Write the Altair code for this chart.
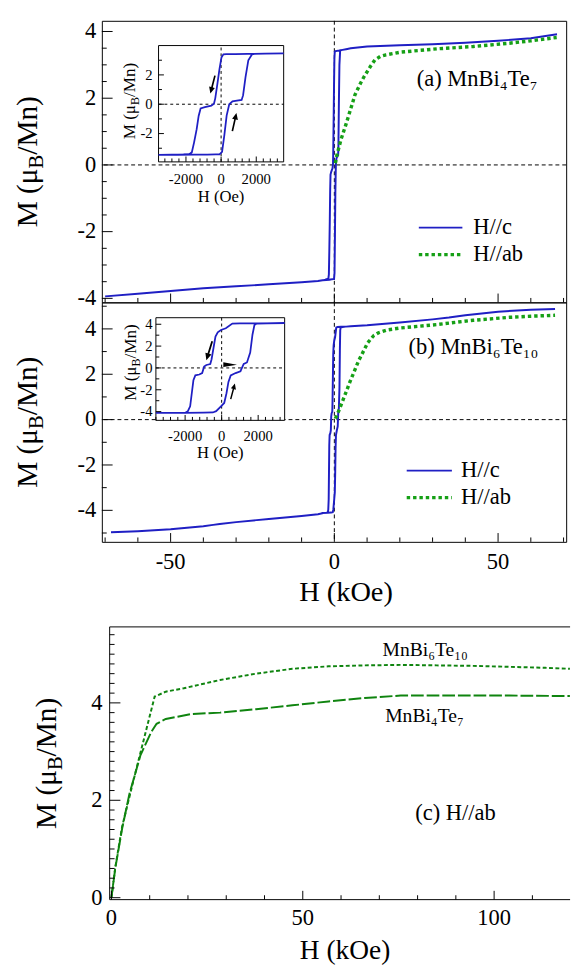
import math
import altair as alt
import pandas as pd

FONT = "Liberation Serif"
BLUE = "#1f1fc4"
GREEN = "#16a016"
GREEN_C = "#0f840f"

# ---------------- data ----------------
# Panel (a) MnBi4Te7, H//c, outside the hysteresis window (kOe, muB/Mn)
a_hi_H = [3.6, 5, 10, 20, 30, 40, 50, 60, 68]
a_hi_M = [3.47, 3.5, 3.55, 3.59, 3.62, 3.66, 3.72, 3.8, 3.92]
a_lo_H = [-70, -60, -50, -40, -30, -20, -10, -5, -3.6]
a_lo_M = [-3.94, -3.86, -3.78, -3.7, -3.64, -3.58, -3.52, -3.48, -3.46]
# Panel (a) H//ab
a_ab_H = [0.3, 0.8, 2, 3.5, 5, 6.3, 8, 9.1, 11, 12.4, 14, 15.8, 20.2, 31.3, 42.4, 53.5, 60, 67.9]
a_ab_M = [0.05, 0.3, 0.75, 1.2, 1.68, 2.1, 2.45, 2.65, 2.95, 3.15, 3.25, 3.3, 3.38, 3.48, 3.55, 3.65, 3.72, 3.82]
# Inset (a) loop, H in Oe
a_dn_H = [3560, 2500, 1500, 800, 300, 130, 19, -93, -222, -333, -407, -556, -926, -1167, -1278, -1390, -1537, -1667, -1815, -2130, -2800, -3560]
a_dn_M = [3.47, 3.45, 3.43, 3.42, 3.41, 3.4, 3.18, 2.4, 1.3, 0.4, 0.03, -0.1, -0.2, -0.29, -0.8, -1.7, -2.6, -3.28, -3.4, -3.42, -3.44, -3.46]
a_up_H = [-3560, -2500, -1500, -800, -300, -93, 55, 185, 315, 463, 648, 900, 1167, 1250, 1389, 1550, 1760, 1900, 2500, 3560]
a_up_M = [-3.46, -3.45, -3.44, -3.43, -3.42, -3.42, -3.24, -2.1, -0.77, 0.0, 0.2, 0.25, 0.29, 0.6, 1.85, 3.0, 3.4, 3.44, 3.45, 3.47]

# Panel (b) MnBi6Te10
b_hi_H = [3.6, 5, 10, 20, 30, 35, 40, 50, 60, 67.4]
b_hi_M = [4.1, 4.12, 4.16, 4.28, 4.42, 4.5, 4.6, 4.76, 4.84, 4.88]
b_lo_H = [-68.2, -60, -50, -40, -37, -35, -30, -20, -10, -5, -3.6]
b_lo_M = [-4.97, -4.92, -4.83, -4.7, -4.64, -4.6, -4.52, -4.38, -4.25, -4.17, -4.13]
b_ab_H = [0.3, 0.8, 2.4, 4.7, 7.4, 10.2, 12, 13.5, 16, 20.2, 31.3, 42.4, 53.5, 60, 67.4]
b_ab_M = [0.05, 0.19, 0.77, 1.64, 2.59, 3.39, 3.7, 3.83, 3.95, 4.04, 4.19, 4.38, 4.51, 4.56, 4.6]
b_dn_H = [3450, 2000, 1000, 586, 229, -37, -213, -338, -444, -551, -622, -835, -960, -1066, -1226, -1440, -1546, -1635, -1724, -1849, -1991, -2500, -3600]
b_dn_M = [4.1, 4.09, 4.08, 4.06, 3.63, 3.48, 3.27, 2.88, 1.85, 0.8, 0.36, 0.27, 0.12, -0.47, -0.6, -0.68, -1.13, -2.32, -3.51, -3.96, -4.1, -4.11, -4.12]
b_up_H = [-3600, -2000, -1000, -480, -302, -37, 141, 265, 372, 497, 764, 1031, 1209, 1386, 1564, 1688, 1795, 1920, 2500, 3450]
b_up_M = [-4.12, -4.11, -4.1, -4.08, -3.96, -3.51, -3.21, -2.32, -1.28, -0.68, -0.47, -0.3, 0.36, 0.5, 1.4, 3.04, 3.93, 4.06, 4.08, 4.1]

# Panel (c) H//ab up to 120 kOe
c_H6 = [0, 1, 2.8, 5.7, 8.5, 11.3, 14.2, 18.9, 28.4, 37.8, 47.3, 56.7, 66.2, 75.6, 85, 94.5, 104, 113.4, 119.8]
c_M6 = [0, 0.62, 1.46, 2.39, 3.26, 4.13, 4.23, 4.3, 4.47, 4.6, 4.7, 4.75, 4.77, 4.78, 4.77, 4.76, 4.74, 4.72, 4.7]
c_H4 = [0, 1, 2.8, 4.7, 7.6, 10.4, 11.8, 14.2, 20.8, 28.4, 37.8, 47.3, 56.7, 66.2, 75.6, 85, 94.5, 104, 119.8]
c_M4 = [0, 0.6, 1.42, 2.13, 2.93, 3.4, 3.57, 3.67, 3.77, 3.8, 3.87, 3.95, 4.03, 4.1, 4.15, 4.15, 4.15, 4.15, 4.14]

# tick values (major = labelled)
main_x_major = [-50, 0, 50]
main_x_minor = [-70, -60, -40, -30, -20, -10, 10, 20, 30, 40, 60, 70]
a_y_major = [-4, -2, 0, 2, 4]
a_y_minor = [-3.5, -3, -2.5, -1.5, -1, -0.5, 0.5, 1, 1.5, 2.5, 3, 3.5]
b_y_major = [-4, -2, 0, 2, 4]
b_y_minor = [-5, -3, -1, 1, 3, 5]
c_x_major = [0, 50, 100]
c_x_minor = [10, 20, 30, 40, 60, 70, 80, 90, 110]
c_y_major = [0, 2, 4]
c_y_minor = [0.2, 0.4, 0.6, 0.8, 1, 1.2, 1.4, 1.6, 1.8, 2.2, 2.4, 2.6, 2.8, 3, 3.2, 3.4,
             3.6, 3.8, 4.2, 4.4, 4.6, 4.8, 5, 5.2, 5.4]
ins_x_major = [-2000, 0, 2000]
ins_x_minor = [-3600, -3200, -2800, -2400, -1600, -1200, -800, -400, 400, 800, 1200, 1600,
               2400, 2800, 3200]
insa_y_major = [-2, 0, 2]
insa_y_minor = [-3, -1, 1, 3]
insb_y_major = [-4, -2, 0, 2, 4]
insb_y_minor = [-3, -1, 1, 3]

series_names = ["H//c", "H//ab"]
panel_labels = ["(a) MnBi\u2084Te\u2087", "(b) MnBi\u2086Te\u2081\u2080", "(c) H//ab"]
compound_labels = ["MnBi\u2086Te\u2081\u2080", "MnBi\u2084Te\u2087"]
ytitle_parts = ["M (\u03bc", "B", "/Mn)"]
xtitle_main = "H (kOe)"
xtitle_inset = "H (Oe)"

ONE = pd.DataFrame({"k": [0]})


# ---------------- helpers ----------------
def df_xy(H, M):
    return pd.DataFrame({"H": H, "M": M, "i": list(range(len(H)))})


def fmt(v):
    return str(int(v)) if float(v).is_integer() else str(v)


def main_loop_df(hi_H, hi_M, lo_H, lo_M, dn_H, dn_M, up_H, up_M):
    H = list(reversed(hi_H)) + [h / 1000 for h in dn_H] + list(reversed(lo_H))
    M = list(reversed(hi_M)) + dn_M + list(reversed(lo_M))
    H += lo_H + [h / 1000 for h in up_H] + hi_H
    M += lo_M + up_M + hi_M
    return df_xy(H, M)


def vticks(vals, xs, ypx, length):
    return alt.Chart(pd.DataFrame({"v": vals})).mark_rule(color="black", strokeWidth=1).encode(
        x=alt.X("v:Q", scale=xs, axis=None), y=alt.value(ypx), y2=alt.value(ypx - length))


def hticks(vals, ys, xpx, length):
    return alt.Chart(pd.DataFrame({"v": vals})).mark_rule(color="black", strokeWidth=1).encode(
        y=alt.Y("v:Q", scale=ys, axis=None), x=alt.value(xpx), x2=alt.value(xpx + length))


def xlabels(vals, xs, ypx, size):
    d = pd.DataFrame({"v": vals, "lab": [fmt(v) for v in vals]})
    return alt.Chart(d).mark_text(font=FONT, fontSize=size, align="center", baseline="middle",
                                  color="black").encode(
        x=alt.X("v:Q", scale=xs, axis=None), y=alt.value(ypx), text="lab:N")


def ylabels(vals, ys, xpx, size):
    d = pd.DataFrame({"v": vals, "lab": [fmt(v) for v in vals]})
    return alt.Chart(d).mark_text(font=FONT, fontSize=size, align="right", baseline="middle",
                                  color="black").encode(
        y=alt.Y("v:Q", scale=ys, axis=None), x=alt.value(xpx), text="lab:N")


def ptext(text, x, y, size, angle=0, align="center", baseline="middle"):
    return alt.Chart(pd.DataFrame({"t": [text]})).mark_text(
        font=FONT, fontSize=size, angle=angle, align=align, baseline=baseline, color="black"
    ).encode(x=alt.value(x), y=alt.value(y), text="t:N")


def dtext(text, x, y, xs, ys, size, align="center", baseline="middle"):
    return alt.Chart(pd.DataFrame({"t": [text]})).mark_text(
        font=FONT, fontSize=size, align=align, baseline=baseline, color="black"
    ).encode(x=alt.XDatum(x, scale=xs, axis=None), y=alt.YDatum(y, scale=ys, axis=None), text="t:N")


def ytitle(xb, yc, fs, sub=0.7):
    wB = 0.667 * sub * fs
    return [
        ptext(ytitle_parts[0], xb, yc + wB / 2, fs, angle=270, align="right", baseline="alphabetic"),
        ptext(ytitle_parts[1], xb + 0.22 * fs, yc, fs * sub, angle=270, align="center", baseline="alphabetic"),
        ptext(ytitle_parts[2], xb, yc - wB / 2, fs, angle=270, align="left", baseline="alphabetic"),
    ]


ARROW = "M0,-1L0.32,-0.3L0.09,-0.3L0.09,1L-0.09,1L-0.09,-0.3L-0.32,-0.3Z"
WEDGE = "M1,0L-1,-0.36L-1,0.36Z"


def arrow_mark(tail, head, xs, ys, sx, sy, shape=ARROW, length=None):
    dx = (head[0] - tail[0]) * sx
    dy = -(head[1] - tail[1]) * sy
    L = length if length else math.hypot(dx, dy)
    if shape == WEDGE:
        ang = math.degrees(math.atan2(dy, dx)) % 360
    else:
        ang = math.degrees(math.atan2(dx, -dy)) % 360
    cx = (tail[0] + head[0]) / 2
    cy = (tail[1] + head[1]) / 2
    return alt.Chart(ONE).mark_point(
        shape=shape, filled=True, color="black", size=L * L, angle=ang, opacity=1, strokeWidth=0
    ).encode(x=alt.XDatum(cx, scale=xs, axis=None), y=alt.YDatum(cy, scale=ys, axis=None))


def inset(dn_H, dn_M, up_H, up_M, xdom, ydom, xr, yr, xlab_dy, xtitle_dy,
          ylab_dx, y_major, y_minor, arrows, wedges, title_xb, title_yc):
    xs = alt.Scale(domain=xdom, range=xr, nice=False, zero=False)
    ys = alt.Scale(domain=ydom, range=yr, nice=False, zero=False)
    sx = (xr[1] - xr[0]) / (xdom[1] - xdom[0])
    sy = (yr[0] - yr[1]) / (ydom[1] - ydom[0])
    xminor = [v for v in ins_x_minor if xdom[0] <= v <= xdom[1]]
    frame = alt.Chart(ONE).mark_rect(fill="white", stroke="black", strokeWidth=1).encode(
        x=alt.XDatum(xdom[0], scale=xs, axis=None), x2=alt.X2Datum(xdom[1]),
        y=alt.YDatum(ydom[0], scale=ys, axis=None), y2=alt.Y2Datum(ydom[1]))
    zv = alt.Chart(ONE).mark_rule(color="black", strokeWidth=1, strokeDash=[3, 3]).encode(
        x=alt.XDatum(0, scale=xs, axis=None), y=alt.YDatum(ydom[0], scale=ys, axis=None),
        y2=alt.Y2Datum(ydom[1]))
    zh = alt.Chart(ONE).mark_rule(color="black", strokeWidth=1, strokeDash=[3, 3]).encode(
        y=alt.YDatum(0, scale=ys, axis=None), x=alt.XDatum(xdom[0], scale=xs, axis=None),
        x2=alt.X2Datum(xdom[1]))
    loop = alt.Chart(df_xy(dn_H + up_H, dn_M + up_M)).mark_line(color=BLUE, strokeWidth=1.8).encode(
        x=alt.X("H:Q", scale=xs, axis=None), y=alt.Y("M:Q", scale=ys, axis=None), order="i:Q")
    layers = [frame, zv, zh, loop,
              vticks(ins_x_major, xs, yr[0], 5.5), vticks(xminor, xs, yr[0], 3.5),
              hticks(y_major, ys, xr[0], 5.5), hticks(y_minor, ys, xr[0], 3.5),
              xlabels(ins_x_major, xs, yr[0] + xlab_dy, 15),
              ylabels(y_major, ys, xr[0] - ylab_dx, 15),
              ptext(xtitle_inset, (xr[0] + xr[1]) / 2, yr[0] + xtitle_dy, 17)]
    for t, h in arrows:
        layers.append(arrow_mark(t, h, xs, ys, sx, sy))
    for t, h, L in wedges:
        layers.append(arrow_mark(t, h, xs, ys, sx, sy, shape=WEDGE, length=L))
    layers += ytitle(title_xb, title_yc, 17.5)
    return alt.layer(*layers)


# ---------------- panels (a), (b) ----------------
W = 475
HA, HB, HC = 288, 245, 279
xs_m = alt.Scale(domain=[-71.0, 70.8], nice=False, zero=False)
ys_a = alt.Scale(domain=[-4.12, 4.32], nice=False, zero=False)
ys_b = alt.Scale(domain=[-5.39, 5.17], nice=False, zero=False)


def main_layer(df_c, H_ab, M_ab, ys, H, y_major, y_minor, label, label_xy,
               leg_x, leg_y, leg_tx, with_x_labels):
    zv = alt.Chart(ONE).mark_rule(color="black", strokeWidth=1, strokeDash=[4, 3]).encode(
        x=alt.XDatum(0, scale=xs_m, axis=None))
    zh = alt.Chart(ONE).mark_rule(color="black", strokeWidth=1, strokeDash=[4, 3]).encode(
        y=alt.YDatum(0, scale=ys, axis=None))
    lc = alt.Chart(df_c).mark_line(color=BLUE, strokeWidth=2).encode(
        x=alt.X("H:Q", scale=xs_m, axis=None), y=alt.Y("M:Q", scale=ys, axis=None), order="i:Q")
    lab = alt.Chart(df_xy(H_ab, M_ab)).mark_line(
        color=GREEN, strokeWidth=3.5, strokeDash=[3.5, 3], strokeCap="butt").encode(
        x=alt.X("H:Q", scale=xs_m, axis=None), y=alt.Y("M:Q", scale=ys, axis=None), order="i:Q")
    g1 = alt.Chart(ONE).mark_rule(color=BLUE, strokeWidth=2).encode(
        x=alt.XDatum(leg_x[0], scale=xs_m, axis=None), x2=alt.X2Datum(leg_x[1]),
        y=alt.YDatum(leg_y[0], scale=ys, axis=None))
    g2 = alt.Chart(ONE).mark_rule(color=GREEN, strokeWidth=3.5, strokeDash=[3.5, 3], strokeCap="butt").encode(
        x=alt.XDatum(leg_x[0], scale=xs_m, axis=None), x2=alt.X2Datum(leg_x[1]),
        y=alt.YDatum(leg_y[1], scale=ys, axis=None))
    t1 = dtext(series_names[0], leg_tx, leg_y[0], xs_m, ys, 23, align="left")
    t2 = dtext(series_names[1], leg_tx, leg_y[1], xs_m, ys, 23, align="left")
    tl = dtext(label, label_xy[0], label_xy[1], xs_m, ys, 23)
    extra = [vticks(main_x_major, xs_m, H, 9), vticks(main_x_minor, xs_m, H, 4.5),
             hticks(y_major, ys, 0, 11), hticks(y_minor, ys, 0, 5),
             ylabels(y_major, ys, -5.7, 23)]
    if with_x_labels:
        extra += [xlabels(main_x_major, xs_m, H + 21, 23), ptext(xtitle_main, 249.8, H + 51, 29)]
    return alt.layer(zv, zh, lc, lab, g1, g2, t1, t2, tl, *extra, *ytitle(-66.4, H / 2, 30))


main_a = main_layer(main_loop_df(a_hi_H, a_hi_M, a_lo_H, a_lo_M, a_dn_H, a_dn_M, a_up_H, a_up_M),
                    a_ab_H, a_ab_M, ys_a, HA, a_y_major, a_y_minor,
                    panel_labels[0], (43.6, 2.58), (25.8, 39.1), (-1.88, -2.69), 42.4, False)
inset_a = inset(a_dn_H, a_dn_M, a_up_H, a_up_M, [-3560, 3560], [-3.93, 4.0], [58, 186], [144.3, 25.3],
                17.5, 36, 6, insa_y_major, insa_y_minor,
                [((-350, 1.95), (-611, 0.73)), ((640, -1.83), (872, -0.6))], [], 34.2, 82)
panel_a = alt.layer(main_a, inset_a).resolve_scale(x="independent", y="independent").properties(
    width=W, height=HA, view=alt.ViewBackground(stroke="black", strokeWidth=1))

main_b = main_layer(main_loop_df(b_hi_H, b_hi_M, b_lo_H, b_lo_M, b_dn_H, b_dn_M, b_up_H, b_up_M),
                    b_ab_H, b_ab_M, ys_b, HB, b_y_major, b_y_minor,
                    panel_labels[1], (42.5, 3.21), (22.1, 35.9), (-2.25, -3.44), 38.7, True)
inset_b = inset(b_dn_H, b_dn_M, b_up_H, b_up_M, [-3600, 3450], [-4.8, 4.6], [55.3, 187], [120.7, 15.7],
                16, 34, 3.5, insb_y_major, insb_y_minor,
                [((-517, 2.44), (-837, 0.71)), ((496, -2.86), (725, -1.43))],
                [((84, 0.3), (850, 0.3), 14)], 35.2, 61.5)
panel_b = alt.layer(main_b, inset_b).resolve_scale(x="independent", y="independent").properties(
    width=W, height=HB, view=alt.ViewBackground(stroke="black", strokeWidth=1))

# ---------------- panel (c) ----------------
GAP = 87
WC = 479
xs_c = alt.Scale(domain=[-0.46, 119.85], range=[8, WC], nice=False, zero=False)
ys_c = alt.Scale(domain=[-0.04, 5.56], range=[GAP + HC, GAP], nice=False, zero=False)
l6 = alt.Chart(df_xy(c_H6, c_M6)).mark_line(color=GREEN_C, strokeWidth=2, strokeDash=[4, 2.5]).encode(
    x=alt.X("H:Q", scale=xs_c, axis=None), y=alt.Y("M:Q", scale=ys_c, axis=None), order="i:Q")
l4 = alt.Chart(df_xy(c_H4, c_M4)).mark_line(color=GREEN_C, strokeWidth=2, strokeDash=[13, 3]).encode(
    x=alt.X("H:Q", scale=xs_c, axis=None), y=alt.Y("M:Q", scale=ys_c, axis=None), order="i:Q")
topc = alt.Chart(ONE).mark_rule(color="black", strokeWidth=1).encode(
    x=alt.XDatum(-0.46, scale=xs_c, axis=None), x2=alt.X2Datum(119.85),
    y=alt.YDatum(5.56, scale=ys_c, axis=None))
botc = alt.Chart(ONE).mark_rule(color="black", strokeWidth=1).encode(
    x=alt.XDatum(-0.46, scale=xs_c, axis=None), x2=alt.X2Datum(119.85),
    y=alt.YDatum(-0.04, scale=ys_c, axis=None))
leftc = alt.Chart(ONE).mark_rule(color="black", strokeWidth=1).encode(
    x=alt.XDatum(-0.46, scale=xs_c, axis=None),
    y=alt.YDatum(-0.04, scale=ys_c, axis=None), y2=alt.Y2Datum(5.56))
tc1 = dtext(compound_labels[0], 82, 5.08, xs_c, ys_c, 20)
tc2 = dtext(compound_labels[1], 81.8, 3.73, xs_c, ys_c, 20)
tc3 = dtext(panel_labels[2], 89.9, 1.73, xs_c, ys_c, 23)
extra_c = [vticks(c_x_major, xs_c, GAP + HC, 9), vticks(c_x_minor, xs_c, GAP + HC, 4.5),
           hticks(c_y_major, ys_c, 8, 11), hticks(c_y_minor, ys_c, 8, 5),
           xlabels(c_x_major, xs_c, GAP + HC + 18.5, 23), ylabels(c_y_major, ys_c, 0.6, 23),
           ptext(xtitle_main, 248.8, GAP + HC + 53, 28)]
panel_c = alt.layer(l6, l4, topc, botc, leftc, tc1, tc2, tc3, *extra_c,
                    *ytitle(-47, GAP + HC / 2, 30)).properties(
    width=WC, height=GAP + HC, view=alt.ViewBackground(strokeOpacity=0))

chart = alt.vconcat(panel_a, panel_b, panel_c, spacing=0, bounds="flush").properties(
    padding={"left": 5, "top": 1, "right": 0, "bottom": 0})

chart.save("out.html", embed_options={"renderer": "svg", "actions": False})
